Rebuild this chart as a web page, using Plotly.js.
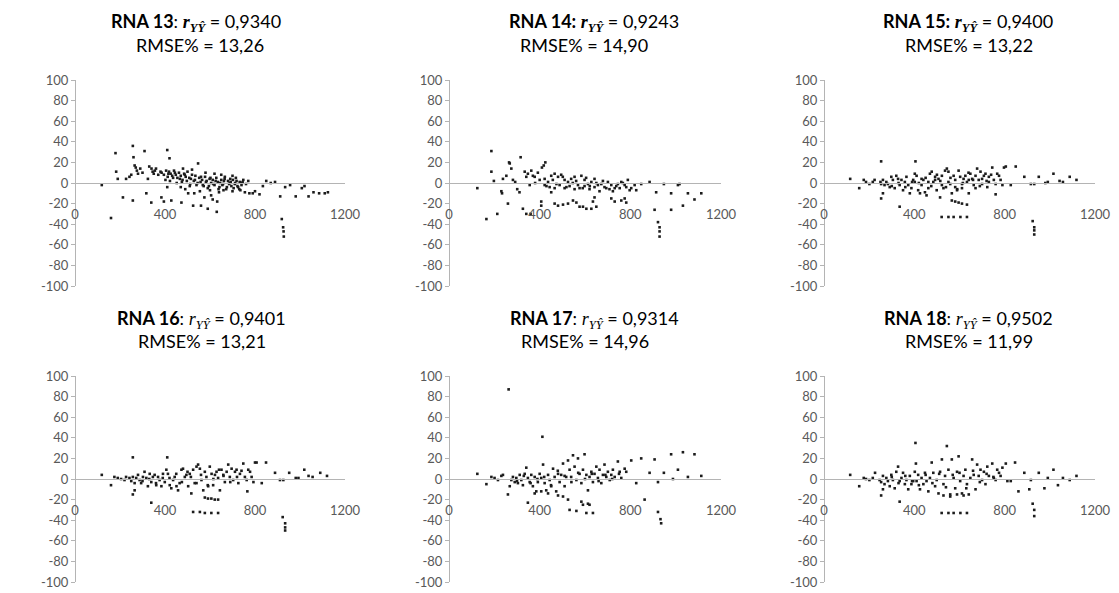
<!DOCTYPE html>
<html>
<head>
<meta charset="utf-8">
<script src="https://cdn.plot.ly/plotly-3.0.1.min.js"></script>
<style>
html,body{margin:0;padding:0;background:#fff;}
#chart{width:1119px;height:593px;}
</style>
</head>
<body>
<div id="chart"></div>
<script>
// ---------- Data ----------
const panelNames = ['RNA 13', 'RNA 14', 'RNA 15', 'RNA 16', 'RNA 17', 'RNA 18'];
const rValues = ['0,9340', '0,9243', '0,9400', '0,9401', '0,9314', '0,9502'];
const rmseValues = ['13,26', '14,90', '13,22', '13,21', '14,96', '11,99'];

const xTickVals = [0, 400, 800, 1200];
const xTickText = ['0', '400', '800', '1200'];
const yTickVals = [-100, -80, -60, -40, -20, 0, 20, 40, 60, 80, 100];
const yTickText = ['-100', '-80', '-60', '-40', '-20', '0', '20', '40', '60', '80', '100'];

const rna13X = [119,160,180,183,190,213,227,242,250,257,260,257,265,270,275,280,290,300,309,317,324,330,340,345,350,355,360,370,380,385,339,384,395,410,420,410,405,412,418,425,432,440,448,455,462,470,478,485,492,500,428,473,503,515,520,528,535,540,547,552,558,565,572,578,585,590,598,605,612,620,628,635,642,650,658,665,672,680,688,695,702,710,718,725,732,740,748,755,760,770,525,560,590,612,630,632,605,575,555,530,666,690,715,745,775,790,800,820,835,850,870,889,912,934,956,919,925,927,928,981,1008,1020,1038,1060,1085,1110,1124,470,490,510,600,640,660,700,730,480,520,580,620,650,700,
  395,402,415,422,436,444,452,466,475,488,497,508,512,533,545,560,568,582,595,602,615,625,638,645,655,662,675,685,692,705,712,722,735,742];
const rna13Y = [-2,-34,29,11,4,-14,4,6,8,36,25,-17,17,15,12,9,14,10,31,-10,4,16,14,11,9,12,14,8,11,10,-19,-14,-18,32,24,-4,12,6,11,9,7,12,8,5,10,7,3,9,6,11,-17,-19,-10,4,8,2,7,-2,19,5,1,3,-3,6,2,-5,4,0,3,-2,5,1,-4,3,-1,4,-6,2,0,-3,3,-1,2,-4,1,-2,3,-9,-1,2,-22,-22,-25,-16,-28,-18,-12,-14,-8,-10,6,4,5,1,-10,-10,-8,-11,-3,2,0,1,-13,-4,-2,-35,-43,-47,-52,-13,-5,-3,-13,-9,-10,-10,-9,-4,-6,-3,-7,-9,-7,-8,-6,14,13,10,9,8,7,
  8,3,9,2,5,10,0,4,1,8,2,5,-1,3,0,6,-2,1,-3,5,-1,2,-6,0,-2,2,-4,-1,1,-5,0,-3,-7,0];

const rna14X = [125,165,187,187,198,213,231,234,238,253,260,265,268,275,282,292,301,311,316,326,334,341,348,356,363,370,378,341,360,410,418,425,407,407,400,422,437,451,466,481,495,510,525,539,554,569,584,598,613,628,642,657,672,686,701,716,731,745,760,775,789,422,444,466,488,510,532,554,576,598,620,642,664,694,723,753,804,826,451,466,481,503,525,547,562,576,591,606,628,635,642,650,716,731,760,775,782,797,819,848,885,914,907,922,929,929,929,948,980,1010,1017,1032,980,1054,1083,1113,
  380,392,430,458,474,502,518,546,561,590,605,621,650,679,708,738,767,782];
const rna14Y = [-5,-35,31,11,2,-30,-8,-10,4,7,-20,20,19,14,3,1,-6,-9,25,-25,11,6,9,-2,12,7,6,-30,-30,15,17,20,-18,-22,3,4,1,7,9,6,8,3,1,4,6,-2,7,3,-1,1,4,-2,-1,-4,1,-2,-5,-1,1,-2,3,-2,-4,-5,-2,-5,-3,-6,-5,-3,-6,-4,-8,-5,-8,-5,-5,-7,-9,-20,-22,-21,-20,-17,-19,-23,-23,-25,-25,-18,-14,-23,-15,-18,-17,-15,-19,-7,-2,-1,1,-9,-26,-38,-43,-47,-52,-1,-10,-2,-1,-22,-26,-10,-16,-10,
  0,10,-3,3,-1,6,-4,0,2,-5,5,-3,0,2,-6,-3,0,-4];

const rna15X = [116,156,176,186,201,216,224,250,253,261,268,276,253,253,261,283,291,298,305,313,320,328,335,343,350,358,365,373,380,387,395,335,405,402,410,417,425,432,440,447,454,462,469,477,484,492,499,507,514,522,529,536,544,551,559,566,574,581,589,596,603,611,618,626,633,641,648,656,663,671,678,685,693,700,708,715,723,730,745,752,760,767,775,782,790,797,402,432,462,492,522,551,581,611,641,671,700,730,566,581,596,611,633,521,551,574,604,633,760,805,849,827,887,916,931,924,931,931,931,951,980,991,1016,1043,1058,1088,1118,
  420,450,475,500,515,540,560,590,615,640,660,690,720,740,300,330,360,390];
const rna15Y = [4,-5,3,1,-1,1,3,1,-1,3,-2,1,21,-15,-10,-1,-4,6,3,-5,7,4,-2,3,-7,1,6,-2,-10,-5,3,-23,21,9,7,-7,-10,-2,3,-9,-12,-5,9,11,1,3,-7,4,-14,7,-5,12,14,11,-1,-10,7,3,-7,12,6,-5,4,7,1,-10,9,4,-2,7,14,3,11,-1,7,9,-4,6,15,3,-1,9,7,3,-2,15,1,4,1,6,-2,1,-4,-1,3,-5,4,1,-17,-18,-19,-20,-21,-33,-33,-33,-33,-33,-11,16,16,-2,6,-1,-1,-37,-43,-46,-50,6,0,1,9,2,1,6,3,
  0,5,-3,8,2,-4,5,-6,0,10,3,-3,2,8,-3,0,-4,1];

const rna16X = [119,160,175,190,205,220,227,257,257,265,242,250,257,265,272,280,287,294,302,309,317,324,332,339,346,354,361,369,376,384,391,399,339,410,406,413,421,428,436,443,451,458,465,473,480,488,495,503,510,517,525,532,540,547,555,562,570,577,584,592,599,607,614,622,629,636,644,651,659,666,674,681,688,696,703,711,718,726,733,748,755,763,770,778,785,793,800,577,591,606,621,636,525,555,577,606,636,766,807,849,830,889,911,926,923,934,934,934,952,981,993,1019,1038,1056,1090,1120,
  420,450,475,500,515,540,560,590,615,640,660,690,720,740,300,330,360,390];
const rna16Y = [4,-6,2,1,0,-1,2,21,-15,-11,1,-2,2,-4,1,4,-1,-4,2,7,1,-7,5,-3,2,4,-6,2,-1,-7,5,-3,-23,21,9,5,-6,-9,-1,2,-7,-11,-4,9,10,2,4,-7,5,-14,9,-4,12,14,10,-1,-11,7,2,-7,12,5,-6,4,7,1,-11,9,4,-3,7,14,2,10,-1,7,9,-4,5,15,2,-1,9,7,2,-3,16,-18,-19,-19,-20,-20,-32,-32,-33,-33,-33,-12,16,16,-4,6,-1,-1,-37,-43,-47,-50,6,1,1,9,3,2,6,3,
  1,5,-3,7,2,-4,4,-6,0,9,3,-3,2,8,-2,0,-4,1];

const rna17X = [263,412,125,165,187,201,216,231,238,260,268,275,282,290,297,304,312,319,326,334,341,348,356,363,370,378,385,392,400,407,415,422,429,437,444,451,459,466,473,481,488,495,503,510,517,525,532,539,547,554,562,569,576,584,591,598,606,613,620,628,635,642,650,657,664,672,679,686,694,701,709,716,723,731,745,753,760,775,782,348,378,407,437,481,503,525,532,562,584,591,606,613,635,620,804,848,907,980,1032,1083,863,826,885,922,948,988,1010,1054,1113,922,933,936,
  300,330,360,390,420,450,480,510,540,570,600,630,660,690,720,750];
const rna17Y = [87,41,5,-5,2,1,-1,3,4,-15,-7,-1,2,-3,1,-4,4,-1,-6,5,11,1,-3,4,-7,2,-12,-3,5,1,14,-4,-11,4,-1,-7,10,2,-12,5,-3,4,15,-7,2,18,9,2,23,12,-1,20,5,-4,9,24,4,-11,2,7,-3,5,12,1,9,-4,4,14,2,7,-1,4,9,2,17,7,1,10,7,-23,-14,-12,-14,-16,-17,-20,-30,-31,-22,-25,-33,-24,-33,-25,18,20,19,24,26,24,-20,-4,6,-3,6,0,9,2,3,-32,-39,-43,
  -2,3,-4,0,2,-6,8,3,-3,6,0,5,-2,4,0,5];

const rna18X = [116,156,176,186,201,216,226,253,261,246,253,261,268,276,283,291,298,305,313,320,328,335,343,350,358,365,373,380,387,395,335,405,407,402,410,417,425,432,440,447,454,462,469,477,484,492,499,507,514,522,529,536,544,551,559,566,574,581,589,596,603,611,618,626,633,641,648,656,663,671,678,685,693,700,708,715,723,730,745,752,760,767,775,782,790,805,812,827,846,861,521,551,574,604,633,529,559,589,618,887,916,909,924,931,931,951,976,991,1016,1036,1058,1088,1118,
  300,330,360,390,420,450,480,510,540,570,600,630,660,690,720,750];
const rna18Y = [4,-7,1,0,-1,1,6,-16,-10,-1,-3,3,-5,1,-2,-7,4,-1,-9,7,12,-2,1,6,-5,-1,-10,3,-5,-2,-22,35,15,7,-2,4,-10,1,-5,6,-2,-12,1,16,6,-7,-1,-14,7,19,-5,3,32,9,-15,19,1,-9,7,22,-2,-14,3,9,-5,-15,1,19,4,-10,14,3,9,-1,7,-5,12,3,15,1,-1,9,6,3,11,15,-2,-2,16,-12,-33,-33,-33,-33,-33,-16,-17,-15,-16,6,-1,-10,-24,-30,-36,6,-9,1,9,-6,1,-1,3,
  2,-4,3,-2,-6,4,-4,5,-8,4,6,-9,8,-3,5,2];

const seriesX = [rna13X, rna14X, rna15X, rna16X, rna17X, rna18X];
const seriesY = [rna13Y, rna14Y, rna15Y, rna16Y, rna17Y, rna18Y];

// ---------- Layout geometry ----------
const W = 1119, H = 593;
const colDomains = [[75/W, 345/W], [449/W, 721/W], [824/W, 1095/W]];
const rowDomains = [[1 - 286/H, 1 - 80/H], [1 - 582/H, 1 - 376/H]];
// title centres (px)
const titlePos = [
  {x1: 196, x2: 200, y1: 23, y2: 45},
  {x1: 594, x2: 584, y1: 23, y2: 45},
  {x1: 968, x2: 969, y1: 23, y2: 45},
  {x1: 201, x2: 202, y1: 319, y2: 341},
  {x1: 594, x2: 585, y1: 319, y2: 341},
  {x1: 968, x2: 969, y1: 319, y2: 341}
];
const boldColon = [false, true, true, false, false, false];
const boldR = [true, true, true, false, false, false];

const sansFamily = 'Lato, "Open Sans", sans-serif';
const tickFont = {family: sansFamily, size: 13, color: '#595959'};
const axisColor = '#b4b4b4';
const mathFont = 'Liberation Serif';

const traces = [];
const layout = {
  width: W, height: H,
  margin: {l: 0, r: 0, t: 0, b: 0},
  paper_bgcolor: '#ffffff', plot_bgcolor: 'rgba(0,0,0,0)',
  showlegend: false,
  annotations: []
};

for (let i = 0; i < 6; i++) {
  const row = Math.floor(i / 3), col = i % 3;
  const n = i + 1;
  const xa = 'x' + (n === 1 ? '' : n), ya = 'y' + (n === 1 ? '' : n);
  const xKey = 'xaxis' + (n === 1 ? '' : n), yKey = 'yaxis' + (n === 1 ? '' : n);
  const yd = rowDomains[row], xd = colDomains[col];

  traces.push({
    type: 'scatter', mode: 'markers',
    x: seriesX[i], y: seriesY[i],
    xaxis: xa, yaxis: ya,
    marker: {symbol: 'square', size: 2.6, color: '#1c1c1c'},
    hoverinfo: 'x+y'
  });

  layout[xKey] = {
    domain: xd, range: [0, 1200],
    anchor: 'free', position: (yd[0] + yd[1]) / 2,
    showline: true, linecolor: axisColor, linewidth: 1,
    showgrid: false, zeroline: false,
    tickmode: 'array', tickvals: xTickVals, ticktext: xTickText,
    ticks: '', ticklabelstandoff: 19,
    tickfont: tickFont, fixedrange: true
  };
  layout[yKey] = {
    domain: yd, range: [-100, 100],
    anchor: 'free', position: xd[0],
    showline: true, linecolor: axisColor, linewidth: 1,
    showgrid: false, zeroline: false,
    tickmode: 'array', tickvals: yTickVals, ticktext: yTickText,
    ticks: 'outside', ticklen: 4, tickcolor: axisColor,
    tickfont: tickFont, fixedrange: true
  };

  const tp = titlePos[i];
  const mStyle = 'font-family:' + mathFont + ';font-style:italic;font-weight:' + (boldR[i] ? 'bold' : 'normal');
  const rPart = '<span style="' + mStyle + '">r</span><sub><span style="' + mStyle + '">YŶ</span></sub>';
  const namePart = boldColon[i] ? '<b>' + panelNames[i] + ':</b>' : '<b>' + panelNames[i] + '</b>:';
  const line1 = namePart + ' ' + rPart + ' = ' + rValues[i];
  layout.annotations.push({
    xref: 'paper', yref: 'paper', x: tp.x1 / W, y: 1 - tp.y1 / H,
    xanchor: 'center', yanchor: 'middle', showarrow: false,
    text: line1, font: {family: sansFamily, size: 18, color: '#000'}
  });
  layout.annotations.push({
    xref: 'paper', yref: 'paper', x: tp.x2 / W, y: 1 - tp.y2 / H,
    xanchor: 'center', yanchor: 'middle', showarrow: false,
    text: 'RMSE% = ' + rmseValues[i], font: {family: sansFamily, size: 18, color: '#000'}
  });
}

Plotly.newPlot('chart', traces, layout, {staticPlot: true, displayModeBar: false});
</script>
</body>
</html>
